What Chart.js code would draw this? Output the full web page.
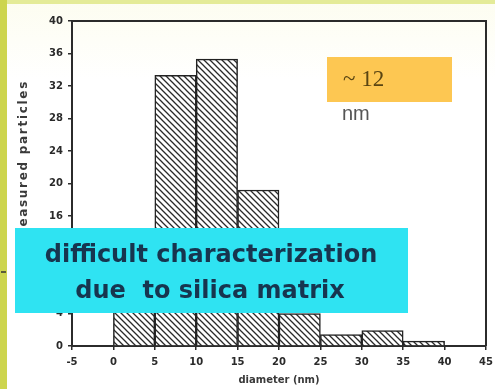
<!DOCTYPE html>
<html>
<head>
<meta charset="utf-8">
<title>Particle size distribution</title>
<script src="https://cdn.jsdelivr.net/npm/chart.js@4/dist/chart.umd.min.js"></script>
<style>
  html, body { margin: 0; padding: 0; background: #ffffff; }
  #wrap { width: 495px; height: 389px; }
</style>
</head>
<body>
<div id="wrap"><canvas id="hist" width="495" height="389"></canvas></div>
<script>
// Histogram bins (nm) and counts of measured particles
const binStarts = [0, 5, 10, 15, 20, 25, 30, 35];
const binWidth = 5;
const counts = [5, 33.3, 35.3, 19.2, 4, 1.4, 1.9, 0.6];

// Axis ranges and tick steps
const xRange = [-5, 45];
const xStep = 5;
const yRange = [0, 40];
const yStep = 4;

// Texts
const xTitle = 'diameter (nm)';
const yTitle = 'measured particles';
const noteLines = ['difficult characterization', 'due  to silica matrix'];
const sizeValue = '~ 12';
const sizeUnit = 'nm';

// Diagonal hatch used to fill the bars
function makeHatch() {
  const s = 6;
  const c = document.createElement('canvas');
  c.width = s; c.height = s;
  const g = c.getContext('2d');
  g.fillStyle = '#ffffff';
  g.fillRect(0, 0, s, s);
  g.strokeStyle = '#2a2a2a';
  g.lineWidth = 1.3;
  g.beginPath();
  g.moveTo(-1, -1); g.lineTo(s + 1, s + 1);
  g.moveTo(-1, s - 1); g.lineTo(1, s + 1);
  g.moveTo(s - 1, -1); g.lineTo(s + 1, 1);
  g.stroke();
  return g.createPattern(c, 'repeat');
}

const pageDecor = {
  id: 'pageDecor',
  beforeDraw(chart) {
    const ctx = chart.ctx;
    const W = chart.width, H = chart.height;
    ctx.save();
    const bg = ctx.createLinearGradient(0, 0, 0, 80);
    bg.addColorStop(0, '#fdfdf0');
    bg.addColorStop(1, '#ffffff');
    ctx.fillStyle = bg;
    ctx.fillRect(0, 0, W, H);
    // yellow-green frame strips
    ctx.fillStyle = '#e4eb98';
    ctx.fillRect(0, 0, W, 4);
    ctx.fillStyle = '#cdd54e';
    ctx.fillRect(0, 0, 7, H);
    ctx.restore();
  },
  afterDraw(chart) {
    const ctx = chart.ctx;
    const a = chart.chartArea;
    ctx.save();

    // top and right sides of the plot frame
    ctx.strokeStyle = '#2b2b2b';
    ctx.lineWidth = 2;
    ctx.beginPath();
    ctx.moveTo(a.left, a.top);
    ctx.lineTo(a.right, a.top);
    ctx.lineTo(a.right, a.bottom);
    ctx.stroke();

    // y axis title, reading upward
    ctx.save();
    ctx.translate(24, 80);
    ctx.rotate(-Math.PI / 2);
    ctx.fillStyle = '#3a3a3a';
    ctx.font = 'bold 12px "DejaVu Sans"';
    ctx.letterSpacing = '1.7px';
    ctx.textAlign = 'right';
    ctx.textBaseline = 'middle';
    ctx.fillText(yTitle, 0, 0);
    ctx.restore();

    // small dash on the left frame
    ctx.strokeStyle = '#333333';
    ctx.lineWidth = 1.5;
    ctx.beginPath();
    ctx.moveTo(1, 272);
    ctx.lineTo(6, 272);
    ctx.stroke();

    // cyan note box
    ctx.fillStyle = '#2fe3f2';
    ctx.fillRect(15, 228, 393, 85);
    ctx.fillStyle = '#17354f';
    ctx.font = 'bold 24px "DejaVu Sans"';
    ctx.textAlign = 'center';
    ctx.textBaseline = 'alphabetic';
    ctx.fillText(noteLines[0], 211, 262, 352);
    ctx.fillText(noteLines[1], 210, 298, 276);

    // orange size box
    ctx.fillStyle = '#fdc752';
    ctx.fillRect(327, 57, 125, 45);
    ctx.fillStyle = '#5a4512';
    ctx.font = '23px "Liberation Serif"';
    ctx.textAlign = 'left';
    ctx.fillText(sizeValue, 343, 86);
    ctx.fillStyle = '#555555';
    ctx.font = '20px "Liberation Sans"';
    ctx.fillText(sizeUnit, 342, 120);

    ctx.restore();
  }
};

const tickFont = { family: 'DejaVu Sans', size: 10, weight: 'bold' };

new Chart(document.getElementById('hist'), {
  type: 'bar',
  data: {
    datasets: [{
      data: binStarts.map((s, i) => ({ x: s + binWidth / 2, y: counts[i] })),
      backgroundColor: makeHatch(),
      borderColor: '#222222',
      borderWidth: 1.5,
      borderSkipped: 'bottom',
      barPercentage: 1,
      categoryPercentage: 1
    }]
  },
  options: {
    responsive: false,
    animation: false,
    layout: { padding: { top: 21, right: 9, left: 0, bottom: 0 } },
    plugins: { legend: { display: false }, tooltip: { enabled: false } },
    scales: {
      x: {
        type: 'linear',
        offset: false,
        min: xRange[0],
        max: xRange[1],
        ticks: { stepSize: xStep, color: '#2a2a2a', font: tickFont, padding: 6, maxRotation: 0 },
        grid: { drawOnChartArea: false, offset: false, tickLength: 4, color: '#2b2b2b', lineWidth: 1.5 },
        border: { color: '#2b2b2b', width: 2 },
        title: { display: true, text: xTitle, color: '#3a3a3a', font: { family: 'DejaVu Sans', size: 10, weight: 'bold' }, padding: { top: 2, bottom: 3 } },
        afterFit(scale) {
          scale.height = 43;
          scale.paddingLeft = 0;
          scale.paddingRight = 0;
        }
      },
      y: {
        min: yRange[0],
        max: yRange[1],
        ticks: { stepSize: yStep, color: '#2a2a2a', font: tickFont, padding: 5 },
        grid: { drawOnChartArea: false, tickLength: 4, color: '#2b2b2b', lineWidth: 1.5 },
        border: { color: '#2b2b2b', width: 2 },
        afterFit(scale) {
          scale.width = 72;
          scale.paddingTop = 0;
          scale.paddingBottom = 0;
        }
      }
    }
  },
  plugins: [pageDecor]
});
</script>
</body>
</html>
